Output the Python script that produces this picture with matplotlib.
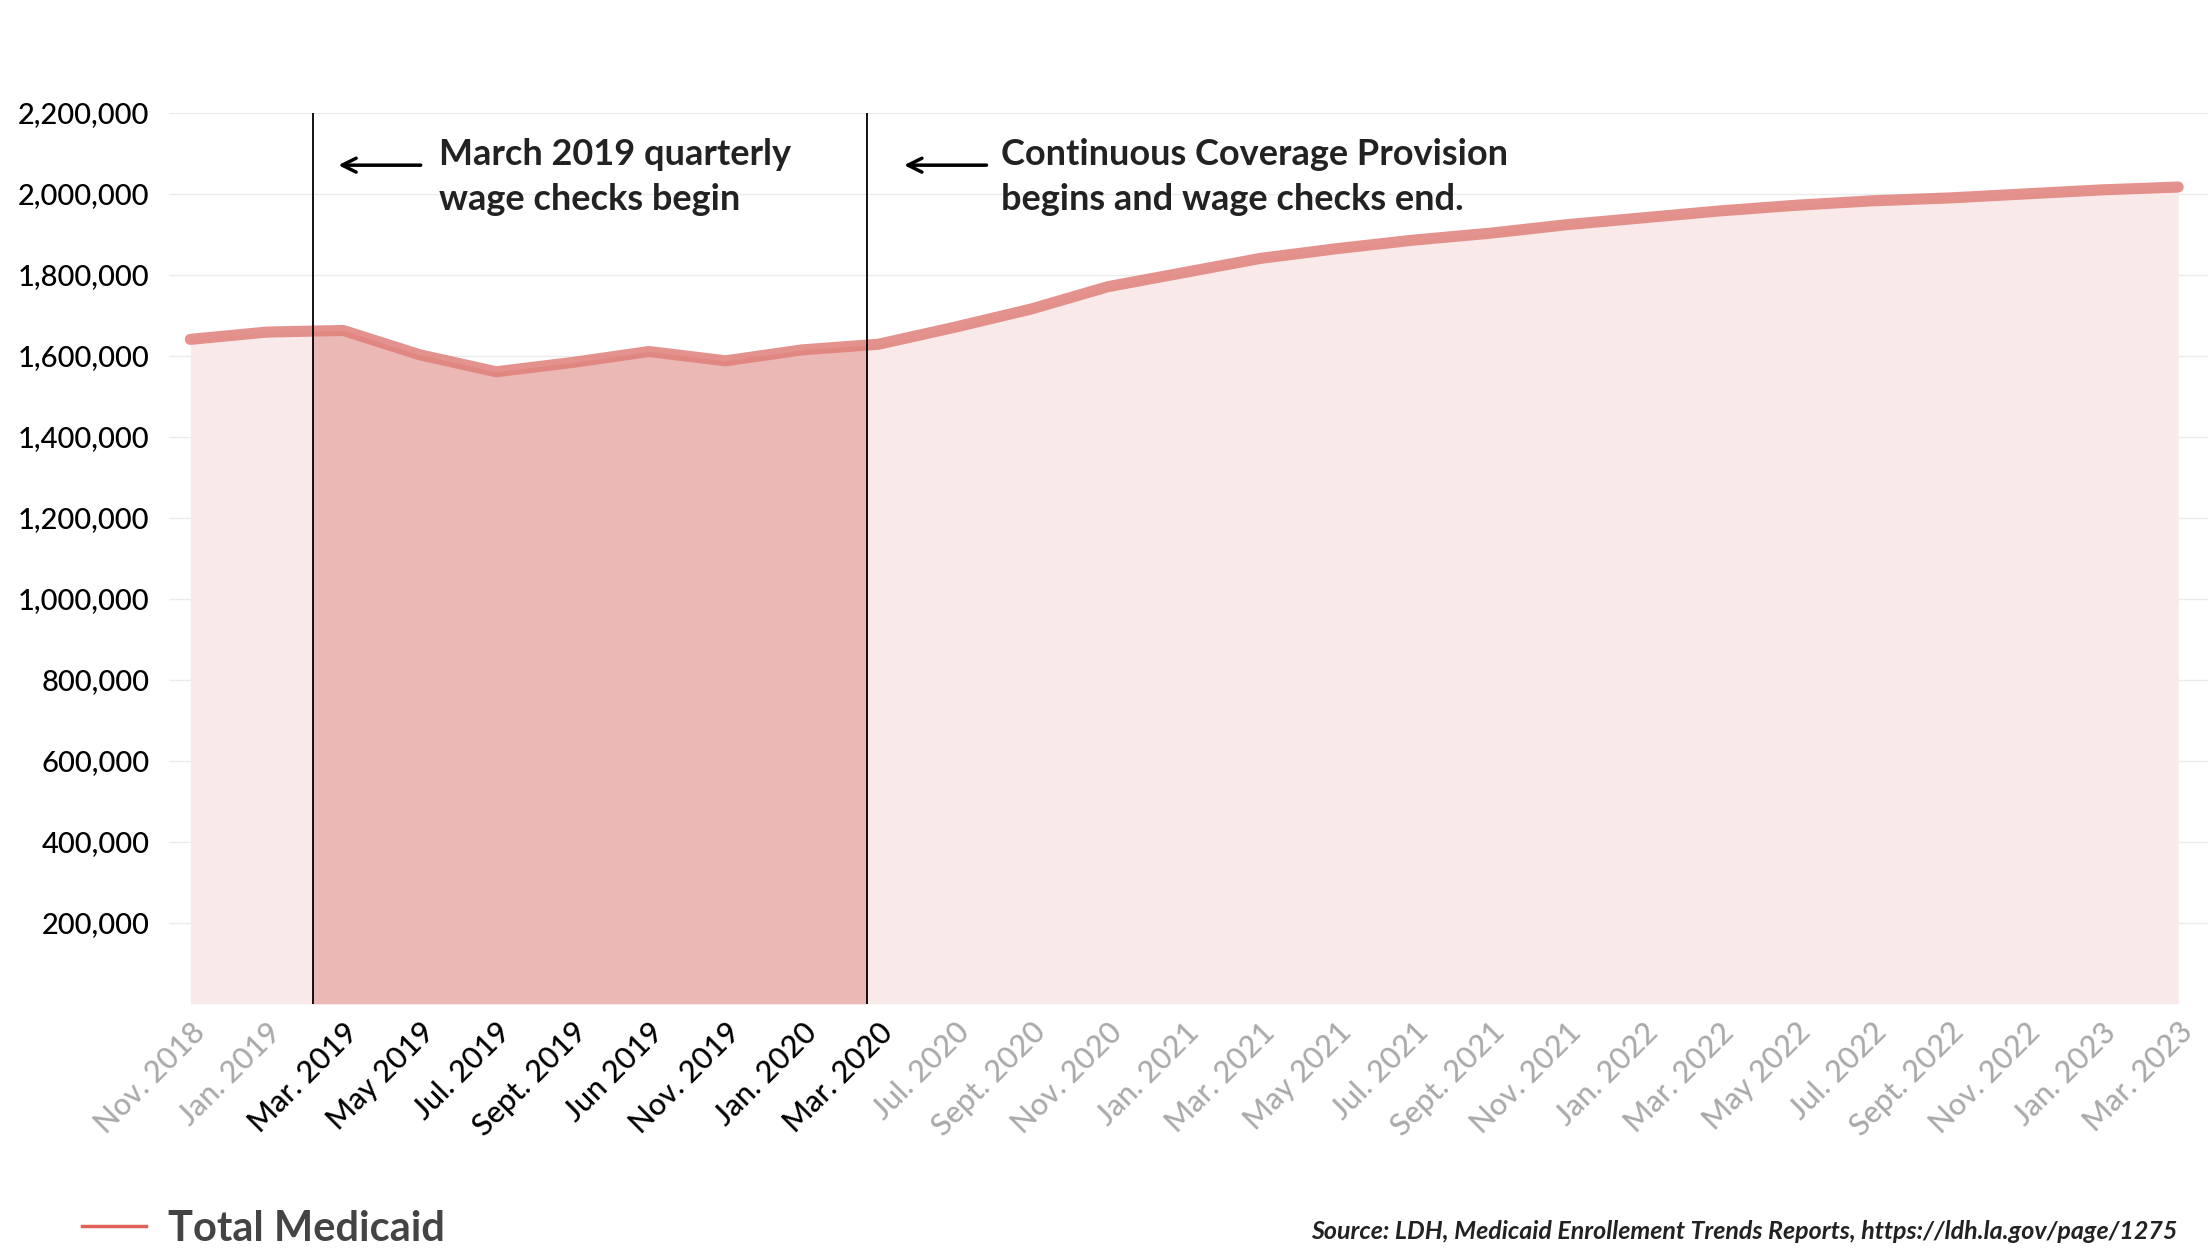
import matplotlib
matplotlib.use("Agg")
import matplotlib.pyplot as plt
import numpy as np

labels = ["Nov. 2018","Jan. 2019","Mar. 2019","May 2019","Jul. 2019","Sept. 2019","Jun 2019",
          "Nov. 2019","Jan. 2020","Mar. 2020","Jul. 2020","Sept. 2020","Nov. 2020","Jan. 2021",
          "Mar. 2021","May 2021","Jul. 2021","Sept. 2021","Nov. 2021","Jan. 2022","Mar. 2022",
          "May 2022","Jul. 2022","Sept. 2022","Nov. 2022","Jan. 2023","Mar. 2023"]
values = [1640000,1658000,1662000,1602000,1560000,1583000,1610000,1587000,1614000,1628000,
          1670000,1715000,1770000,1805000,1840000,1864000,1885000,1902000,1923000,1940000,
          1957000,1971000,1982000,1989000,1999000,2009000,2016000]
highlight = ["Mar. 2019","May 2019","Jul. 2019","Sept. 2019","Jun 2019","Nov. 2019","Jan. 2020","Mar. 2020"]
period_start, period_end = 1.6, 8.85

plt.rcParams["font.family"] = "Lato"
fig = plt.figure(figsize=(22.08, 12.5), dpi=100)
ax = fig.add_axes([0.0765, 0.197, 0.9235, 0.713])
x = np.arange(len(values))
v = np.array(values)
ax.fill_between(x, 0, v, color="#f9e9e8", lw=0, zorder=1)
xs = np.linspace(period_start, period_end, 200)
ax.fill_between(xs, 0, np.interp(xs, x, v), color="#ebb8b5", lw=0, zorder=2)
ax.plot(x, v, color="#e07f7a", lw=8, alpha=0.85, solid_capstyle="round", solid_joinstyle="round", zorder=3)
for p in (period_start, period_end):
    ax.axvline(p, color="black", lw=1.3, zorder=4)

ax.set_xlim(-0.28, 26.39)
ax.set_ylim(0, 2200000)
ax.set_yticks(np.arange(200000, 2200001, 200000))
ax.set_yticklabels([f"{t:,}" for t in range(200000, 2200001, 200000)], fontsize=21, fontweight="medium")
ax.yaxis.grid(True, color="#ebebeb", lw=1)
ax.set_axisbelow(True)
ax.set_xticks(x)
ax.set_xticklabels(labels, rotation=45, ha="right", rotation_mode="anchor", fontsize=22, fontweight="medium")
for t in ax.get_xticklabels():
    t.set_color("black" if t.get_text() in highlight else "#aaaaaa")
ax.tick_params(length=0, pad=10)
ax.tick_params(axis="y", pad=14)
for s in ax.spines.values():
    s.set_visible(False)

ax.annotate("", xy=(period_start + 0.3, 2070000), xytext=(period_start + 1.45, 2070000),
            arrowprops=dict(arrowstyle="->", color="black", lw=2.5, mutation_scale=25))
ax.text(period_start + 1.65, 2040000, "March 2019 quarterly\nwage checks begin",
        fontsize=26, fontweight="bold", va="center", ha="left", linespacing=1.45, color="#222")
ax.annotate("", xy=(period_end + 0.45, 2070000), xytext=(period_end + 1.6, 2070000),
            arrowprops=dict(arrowstyle="->", color="black", lw=2.5, mutation_scale=25))
ax.text(period_end + 1.75, 2040000, "Continuous Coverage Provision\nbegins and wage checks end.",
        fontsize=26, fontweight="bold", va="center", ha="left", linespacing=1.45, color="#222")

fig.lines.append(plt.Line2D([0.037, 0.066], [0.019, 0.019], color="#e0605a", lw=2.5, transform=fig.transFigure))
fig.text(0.076, 0.017, "Total Medicaid", fontsize=30, fontweight="bold", va="center", color="#444")
fig.text(0.986, 0.015, "Source: LDH, Medicaid Enrollement Trends Reports, https://ldh.la.gov/page/1275",
         fontsize=18, style="italic", fontweight="bold", ha="right", va="center", color="#222")
fig.savefig("out.png", dpi=100)
